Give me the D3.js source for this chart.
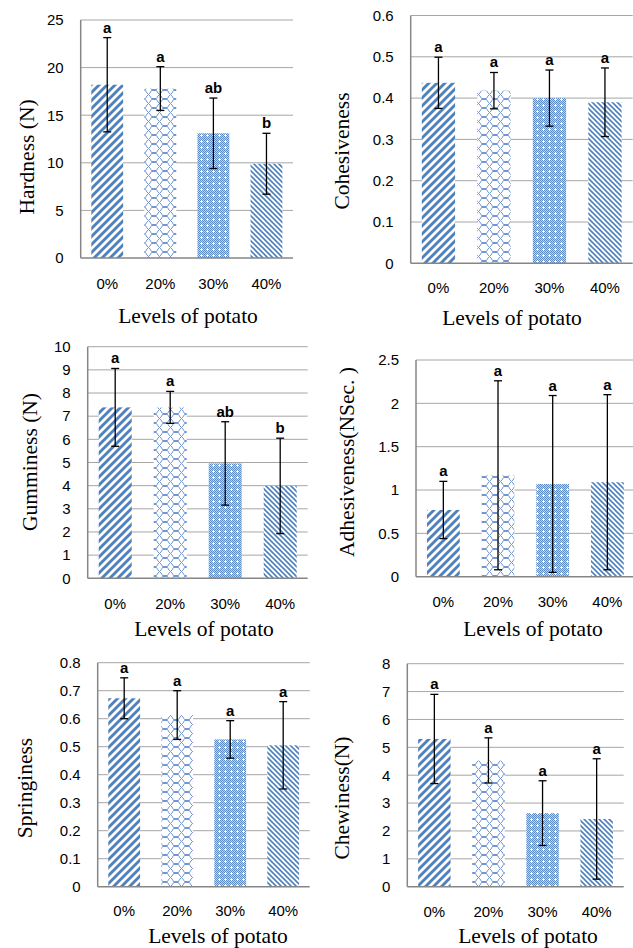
<!DOCTYPE html>
<html>
<head>
<meta charset="utf-8">
<script src="https://cdn.jsdelivr.net/npm/d3@7"></script>
<style>
  body { margin: 0; background: #fff; }
  svg { display: block; }
</style>
</head>
<body>
<div id="chart"></div>
<script>
// data
var levels = ["0%", "20%", "30%", "40%"];

var hardness = [18.2, 17.8, 13.1, 9.9];
var hardnessSD = [4.95, 2.3, 3.7, 3.2];
var hardnessLetters = ["a", "a", "ab", "b"];

var cohesiveness = [0.437, 0.418, 0.40, 0.39];
var cohesivenessSD = [0.062, 0.044, 0.068, 0.083];
var cohesivenessLetters = ["a", "a", "a", "a"];

var gumminess = [7.38, 7.38, 4.96, 3.99];
var gumminessSD = [1.68, 0.69, 1.8, 2.06];
var gumminessLetters = ["a", "a", "ab", "b"];

var adhesiveness = [0.77, 1.17, 1.07, 1.09];
var adhesivenessSD = [0.33, 1.09, 1.02, 1.01];
var adhesivenessLetters = ["a", "a", "a", "a"];

var springiness = [0.673, 0.613, 0.526, 0.505];
var springinessSD = [0.073, 0.087, 0.067, 0.156];
var springinessLetters = ["a", "a", "a", "a"];

var chewiness = [5.3, 4.53, 2.64, 2.43];
var chewinessSD = [1.6, 0.81, 1.16, 2.16];
var chewinessLetters = ["a", "a", "a", "a"];

var axisMax = [25, 0.6, 10, 2.5, 0.8, 8];
var axisStep = [5, 0.1, 1, 0.5, 0.1, 1];
var yTitles = ["Hardness (N)", "Cohesiveness", "Gumminess (N)", "Adhesiveness(NSec. )", "Springiness", "Chewiness(N)"];
var xTitle = "Levels of potato";

// panel placement (pixels)
var boxes = [
  {x0: 80.7, x1: 293, top: 20, bottom: 258, xLab: 289, tx: 188, ty: 323, yx: 27, yy: 157},
  {x0: 410.7, x1: 632.7, top: 15.5, bottom: 263.3, xLab: 292.5, tx: 512, ty: 325, yx: 342, yy: 151},
  {x0: 87.7, x1: 307.7, top: 346.7, bottom: 578.3, xLab: 609, tx: 204, ty: 636, yx: 30, yy: 462},
  {x0: 416, x1: 634.7, top: 360, bottom: 576.7, xLab: 607, tx: 533, ty: 636, yx: 347, yy: 462},
  {x0: 97.7, x1: 309.7, top: 662.7, bottom: 886.7, xLab: 916, tx: 218, ty: 943, yx: 25, yy: 788},
  {x0: 407.3, x1: 623.7, top: 663.7, bottom: 886.7, xLab: 917, tx: 528, ty: 943, yx: 342, yy: 798}
];

var means = [hardness, cohesiveness, gumminess, adhesiveness, springiness, chewiness];
var sds = [hardnessSD, cohesivenessSD, gumminessSD, adhesivenessSD, springinessSD, chewinessSD];
var letters = [hardnessLetters, cohesivenessLetters, gumminessLetters, adhesivenessLetters, springinessLetters, chewinessLetters];

var blue = "#4F81BD";
var serif = "'Liberation Serif', 'Times New Roman', serif";
var sans = "'Liberation Sans', Arial, sans-serif";

var svg = d3.select("#chart").append("svg")
  .attr("width", 633)
  .attr("height", 948);

var defs = svg.append("defs");

// 0%: wide upward diagonal
var p0 = defs.append("pattern").attr("id", "pat0")
  .attr("patternUnits", "userSpaceOnUse").attr("width", 8).attr("height", 8);
p0.append("rect").attr("width", 8).attr("height", 8).attr("fill", "#fff");
p0.append("path").attr("d", "M-2,2 L2,-2 M0,8 L8,0 M6,10 L10,6")
  .attr("stroke", blue).attr("stroke-width", 2.9);

// 20%: zigzag lattice
var p1 = defs.append("pattern").attr("id", "pat1")
  .attr("patternUnits", "userSpaceOnUse").attr("width", 11).attr("height", 9);
p1.append("rect").attr("width", 11).attr("height", 9).attr("fill", "#fff");
p1.append("path")
  .attr("d", "M0,0.5 L2.5,0.5 L4,3 L5.5,4.5 L7,6 L8.5,8.5 L11,8.5 M0,8.5 L2.5,8.5 L4,6 L5.5,4.5 L7,3 L8.5,0.5 L11,0.5")
  .attr("fill", "none").attr("stroke", "#7196d0").attr("stroke-width", 1);

// 30%: fine checker with white crosses
var p2 = defs.append("pattern").attr("id", "pat2")
  .attr("patternUnits", "userSpaceOnUse").attr("width", 6).attr("height", 6);
p2.append("rect").attr("width", 6).attr("height", 6).attr("fill", "#c3d3ee");
for (var i = 0; i < 6; i++) {
  for (var j = 0; j < 6; j++) {
    if ((i + j) % 2 == 0) {
      p2.append("rect").attr("x", i).attr("y", j).attr("width", 1).attr("height", 1).attr("fill", "#5d8bc6");
    }
  }
}
[[2, 3], [3, 3], [4, 3], [3, 2], [3, 4]].forEach(function(c) {
  p2.append("rect").attr("x", c[0]).attr("y", c[1]).attr("width", 1).attr("height", 1).attr("fill", "#fff");
});

// 40%: narrow downward diagonal
var p3 = defs.append("pattern").attr("id", "pat3")
  .attr("patternUnits", "userSpaceOnUse").attr("width", 5).attr("height", 5);
p3.append("rect").attr("width", 5).attr("height", 5).attr("fill", "#fff");
p3.append("path").attr("d", "M-1,-1 L6,6 M-1,4 L1,6 M4,-1 L6,1")
  .attr("stroke", blue).attr("stroke-width", 1.6);

var fmt = function(v) { return String(+v.toFixed(3)); };

boxes.forEach(function(b, k) {
  var g = svg.append("g");

  var x = d3.scaleBand().domain(levels).range([b.x0, b.x1])
    .paddingInner(0.4).paddingOuter(0.2);
  var y = d3.scaleLinear().domain([0, axisMax[k]]).range([b.bottom, b.top]);
  var ticks = d3.range(0, axisMax[k] + axisStep[k] / 2, axisStep[k]);

  // gridlines
  g.selectAll(".grid").data(ticks.slice(1)).enter().append("line")
    .attr("x1", b.x0).attr("x2", b.x1)
    .attr("y1", function(d) { return y(d); })
    .attr("y2", function(d) { return y(d); })
    .attr("stroke", "#a6a6a6").attr("stroke-width", 1);

  // y axis labels
  var ax = g.append("g").attr("transform", "translate(" + b.x0 + ",0)")
    .call(d3.axisLeft(y).tickValues(ticks).tickFormat(fmt).tickSize(0).tickPadding(17));
  ax.select(".domain").remove();
  ax.selectAll("text").style("font-family", sans).style("font-size", "15px").attr("fill", "#000");

  // bars
  g.selectAll(".bar").data(levels).enter().append("rect")
    .attr("x", function(d) { return x(d); })
    .attr("width", x.bandwidth())
    .attr("y", function(d, i) { return y(means[k][i]); })
    .attr("height", function(d, i) { return b.bottom - y(means[k][i]); })
    .attr("fill", function(d, i) { return "url(#pat" + i + ")"; });

  // axis lines
  g.append("line").attr("x1", b.x0).attr("x2", b.x0).attr("y1", b.top).attr("y2", b.bottom)
    .attr("stroke", "#868686").attr("stroke-width", 1.5);
  g.append("line").attr("x1", b.x0).attr("x2", b.x1).attr("y1", b.bottom).attr("y2", b.bottom)
    .attr("stroke", "#868686").attr("stroke-width", 1.5);

  // error bars
  levels.forEach(function(d, i) {
    var cx = x(d) + x.bandwidth() / 2;
    var hi = y(means[k][i] + sds[k][i]);
    var lo = y(Math.max(0, means[k][i] - sds[k][i]));
    g.append("line").attr("x1", cx).attr("x2", cx).attr("y1", hi).attr("y2", lo)
      .attr("stroke", "#000").attr("stroke-width", 1.3);
    [hi, lo].forEach(function(yy) {
      g.append("line").attr("x1", cx - 4).attr("x2", cx + 4).attr("y1", yy).attr("y2", yy)
        .attr("stroke", "#000").attr("stroke-width", 1.3);
    });
    g.append("text").text(letters[k][i])
      .attr("x", cx).attr("y", hi - 5)
      .attr("text-anchor", "middle")
      .style("font-family", sans).style("font-size", "15px").style("font-weight", "bold");
  });

  // x labels
  g.selectAll(".xl").data(levels).enter().append("text")
    .text(function(d) { return d; })
    .attr("x", function(d) { return x(d) + x.bandwidth() / 2; })
    .attr("y", b.xLab)
    .attr("text-anchor", "middle")
    .style("font-family", sans).style("font-size", "15px");

  // titles
  g.append("text").text(xTitle)
    .attr("x", b.tx).attr("y", b.ty)
    .attr("text-anchor", "middle")
    .style("font-family", serif).style("font-size", "21.5px");

  g.append("text").text(yTitles[k])
    .attr("transform", "translate(" + b.yx + "," + b.yy + ") rotate(-90)")
    .attr("text-anchor", "middle")
    .attr("dominant-baseline", "central")
    .style("font-family", serif).style("font-size", "21.5px");
});
</script>
</body>
</html>
